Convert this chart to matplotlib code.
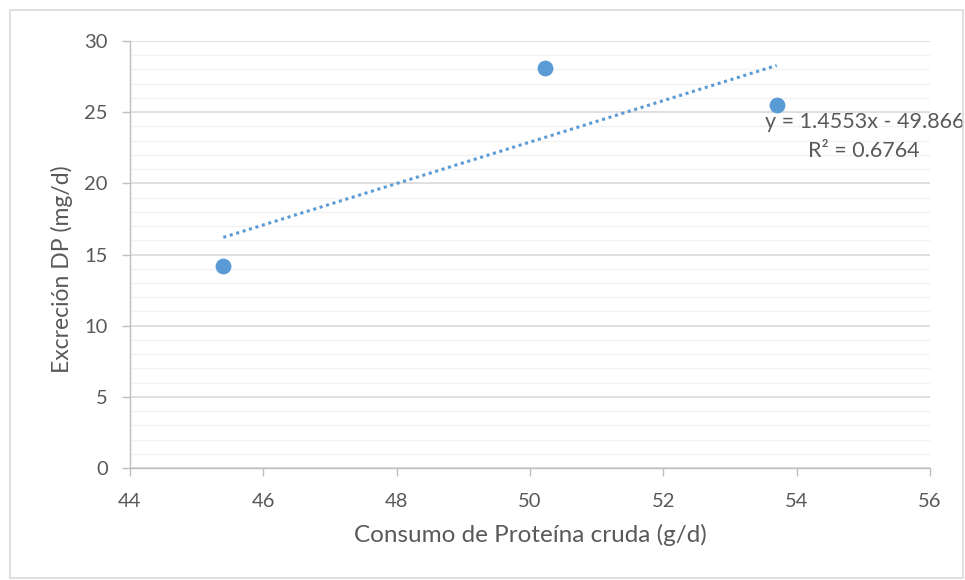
import matplotlib.pyplot as plt
from matplotlib.patches import Rectangle
import numpy as np

# data
consumo = [45.4, 50.23, 53.7]
excrecion = [14.2, 28.1, 25.5]
pendiente = 1.4553
intercepto = -49.866
r2 = 0.6764

azul = '#5B9BD5'
gris = '#595959'

plt.rcParams['font.family'] = ['Lato', 'DejaVu Sans']

fig = plt.figure(figsize=(9.65, 5.8), dpi=100)
ax = fig.add_axes([130 / 965, 112 / 580, 800 / 965, 427 / 580])

fig.patches.append(Rectangle((10 / 965, 2 / 580), 953 / 965, 568 / 580,
                             transform=fig.transFigure, fill=False,
                             edgecolor='#D9D9D9', linewidth=1.2))

ax.set_xlim(44, 56)
ax.set_ylim(0, 30)
ax.set_xticks(np.arange(44, 57, 2))
ax.set_yticks(np.arange(0, 31, 5))
ax.set_yticks(np.arange(0, 31, 1), minor=True)
ax.grid(True, which='major', axis='y', color='#D9D9D9', linewidth=1.2)
ax.grid(True, which='minor', axis='y', color='#F2F2F2', linewidth=1.0)
ax.set_axisbelow(True)

for s in ['top', 'right']:
    ax.spines[s].set_visible(False)
for s in ['left', 'bottom']:
    ax.spines[s].set_color('#BFBFBF')
    ax.spines[s].set_linewidth(1.0)

ax.tick_params(axis='both', which='major', colors='#BFBFBF', labelcolor=gris,
               labelsize=14.5, length=6, width=1.0, direction='out')
ax.tick_params(axis='y', which='minor', length=0)
ax.tick_params(axis='y', pad=10)
ax.tick_params(axis='x', pad=12)

xs = np.array([min(consumo), max(consumo)])
ax.plot(xs, pendiente * xs + intercepto, linestyle=(0, (1, 1.2)),
        color=azul, linewidth=2.2, zorder=2)
ax.scatter(consumo, excrecion, s=130, color=azul, zorder=3, linewidths=0)

ax.text(56.52, 24.3, 'y = %.4fx - %.3f' % (pendiente, -intercepto),
        ha='right', va='center', fontsize=15.5, color=gris, clip_on=False)
ax.text(55.0, 22.3, 'R² = %.4f' % r2, ha='center', va='center',
        fontsize=15.5, color=gris, clip_on=False)

ax.set_xlabel('Consumo de Proteína cruda (g/d)', fontsize=17.5, color=gris,
              labelpad=10)
ax.set_ylabel('Excreción DP (mg/d)', fontsize=16.5, color=gris)
ax.yaxis.set_label_coords(-57 / 800, 0.466)

fig.savefig('out.png', dpi=100)
